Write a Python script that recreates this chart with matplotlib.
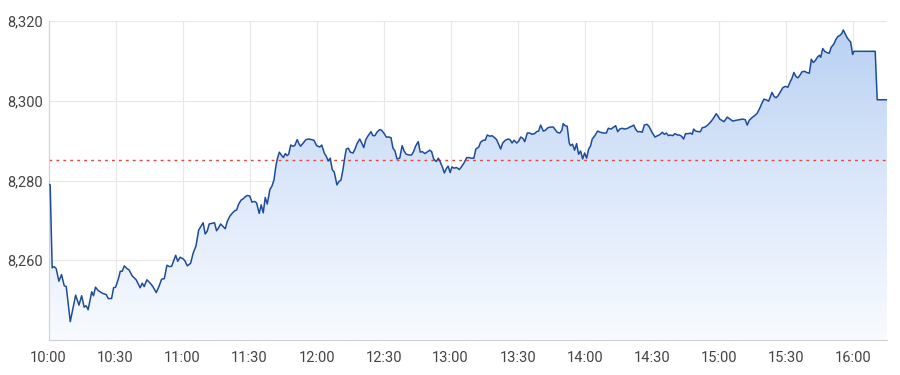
import matplotlib
matplotlib.use("Agg")
import matplotlib.pyplot as plt
import numpy as np
from matplotlib.colors import LinearSegmentedColormap

# minutes after 10:00
minutes = [0, 0.7, 1.6, 2.5, 3.4, 4.6, 5.8, 7.0, 7.9, 9.7, 10.9, 12.1, 13.6, 14.8, 15.9, 16.8, 17.7,
           19.3, 20.1, 21.0, 22.2, 24.0, 25.8, 26.7, 28.2, 29.1, 30.0, 31.2, 32.1, 33.0, 33.9, 35.1,
           36.0, 37.4, 39.2, 41.0, 41.9, 42.8, 44.0, 45.5, 46.7, 48.2, 49.4, 50.6, 51.8, 53.0, 54.2,
           55.1, 56.9, 57.8, 58.9, 60.1, 61.0, 62.1, 63.6, 64.7, 66.0, 67.2, 68.3, 69.2, 70.1, 71.0,
           71.9, 73.1, 74.3, 75.2, 76.1, 77.0, 78.2, 79.1, 80.0, 81.2, 82.4, 83.3, 84.2, 85.1, 86.2,
           87.1, 88.0, 88.9, 90.1, 91.0, 92.2, 93.1, 94.3, 95.2, 96.1, 97.0, 97.9, 98.5, 99.1, 100.0,
           100.9, 101.8, 102.4, 103.3, 104.2, 105.1, 106.0, 106.8, 107.5, 108.4, 109.3, 110.2, 111.3,
           112.2, 112.8, 114.0, 115.2, 116.4, 117.9, 118.8, 120.0, 121.4, 122.3, 123.4, 124.3, 125.2,
           126.1, 127.0, 127.9, 129.1, 130.0, 130.9, 131.8, 132.7, 133.3, 134.2, 135.1, 136.3, 137.2,
           138.1, 139.3, 140.2, 141.1, 142.0, 143.1, 144.3, 145.2, 146.1, 147.0, 148.2, 149.1, 150.3,
           151.2, 152.4, 153.3, 154.2, 155.1, 156.0, 157.2, 158.3, 159.2, 160.1, 161.3, 162.5, 163.4,
           164.3, 165.5, 166.4, 167.3, 168.5, 169.4, 170.6, 171.5, 172.4, 173.6, 174.5, 175.4, 176.3,
           177.2, 178.0, 178.9, 179.8, 180.6, 181.5, 182.7, 183.9, 184.8, 186.0, 187.2, 188.3, 189.2,
           190.4, 191.3, 192.6, 193.4, 194.6, 195.5, 196.4, 197.6, 198.5, 199.7, 200.6, 201.5, 202.4,
           203.3, 204.5, 205.7, 206.6, 207.5, 208.4, 209.6, 210.5, 211.4, 212.3, 213.2, 214.3, 215.5,
           216.4, 217.6, 218.5, 219.4, 220.3, 221.5, 222.4, 223.6, 224.8, 226.0, 226.8, 227.7, 228.9,
           229.8, 230.4, 231.3, 232.2, 233.1, 233.7, 234.6, 235.5, 236.4, 237.3, 238.2, 239.1, 240.0,
           240.9, 241.8, 242.6, 243.4, 244.6, 245.8, 247.0, 248.5, 249.7, 250.6, 251.8, 253.0, 253.9,
           254.8, 255.7, 256.8, 258.0, 259.3, 260.2, 261.1, 262.0, 262.8, 263.7, 264.9, 265.8, 266.7,
           267.9, 268.8, 270.0, 271.5, 272.7, 273.9, 274.8, 275.7, 276.6, 277.5, 278.3, 279.5, 280.4,
           281.7, 282.5, 283.4, 284.3, 285.2, 286.4, 287.3, 288.2, 288.8, 289.7, 290.9, 291.8, 292.7,
           293.9, 295.1, 296.3, 297.2, 298.0, 298.9, 299.6, 300.5, 302.4, 303.9, 305.1, 306.3, 307.8,
           309.2, 310.8, 311.9, 312.8, 313.7, 314.9, 316.1, 317.3, 318.5, 319.4, 320.3, 321.2, 322.4,
           323.3, 323.9, 324.8, 325.7, 326.6, 327.5, 328.7, 329.8, 331.0, 331.9, 332.8, 333.7, 334.6,
           335.5, 336.4, 337.3, 338.5, 339.4, 340.6, 341.5, 342.4, 343.3, 344.2, 345.1, 345.7, 346.6,
           347.5, 348.4, 349.5, 350.4, 351.6, 352.5, 353.4, 354.3, 355.2, 355.8, 356.7, 357.6, 358.5,
           359.1, 360.0, 360.6, 370.1, 371.0, 375.4]

values = [8279.1, 8278.9, 8258.1, 8258.4, 8257.9, 8254.75, 8256.4, 8253.6, 8253.4, 8244.6, 8247.9,
          8251.25, 8248.75, 8251.1, 8248.25, 8248.6, 8247.6, 8252.1, 8251.1, 8253.25, 8252.4, 8251.75,
          8251.4, 8250.4, 8250.4, 8253.1, 8253.25, 8255.25, 8257.25, 8257.25, 8258.6, 8257.9, 8257.6,
          8256.1, 8255.1, 8253.1, 8254.25, 8253.4, 8255.1, 8254.25, 8253.4, 8251.9, 8253.4, 8255.25,
          8255.4, 8258.75, 8258.4, 8258.5, 8261.25, 8259.75, 8260.75, 8260.4, 8259.9, 8258.6, 8259.25,
          8261.75, 8263.6, 8267.6, 8268.6, 8269.4, 8266.6, 8267.25, 8269.1, 8269.25, 8269.4, 8267.4,
          8268.1, 8269.1, 8268.4, 8267.9, 8269.75, 8271.1, 8271.9, 8272.4, 8272.6, 8274.1, 8275.1,
          8275.4, 8275.9, 8276.25, 8276.1, 8274.6, 8274.75, 8274.4, 8271.75, 8273.9, 8271.9, 8275.75,
          8274.1, 8275.9, 8277.75, 8278.6, 8280.1, 8283.75, 8285.4, 8287.1, 8286.4, 8285.75, 8286.75,
          8286.25, 8286.6, 8288.9, 8288.6, 8288.75, 8290.25, 8289.1, 8288.6, 8289.4, 8290.25, 8290.4,
          8290.25, 8290.1, 8288.75, 8288.4, 8288.9, 8286.9, 8286.1, 8284.9, 8285.6, 8282.75, 8282.1,
          8278.9, 8279.75, 8280.1, 8282.75, 8286.1, 8287.9, 8288.1, 8287.1, 8286.9, 8287.9, 8289.25,
          8290.4, 8289.4, 8288.25, 8290.25, 8291.25, 8292.25, 8291.25, 8291.25, 8292.1, 8292.75, 8292.6,
          8291.75, 8290.9, 8290.9, 8290.75, 8288.1, 8287.4, 8285.4, 8285.6, 8288.75, 8287.4, 8286.6,
          8286.4, 8286.4, 8287.25, 8288.6, 8289.75, 8287.1, 8287.25, 8286.75, 8287.1, 8287.6, 8287.25,
          8285.4, 8284.75, 8285.6, 8284.6, 8283.4, 8281.9, 8282.9, 8283.6, 8282.0, 8283.4, 8283.1,
          8283.25, 8282.75, 8283.4, 8284.4, 8285.75, 8285.75, 8285.6, 8285.6, 8287.9, 8288.4, 8289.6,
          8290.1, 8290.1, 8291.4, 8291.1, 8291.25, 8290.75, 8290.25, 8289.1, 8287.9, 8289.4, 8290.1,
          8290.4, 8290.25, 8289.4, 8290.1, 8289.4, 8289.9, 8290.9, 8290.6, 8289.75, 8291.9, 8291.9,
          8291.6, 8291.75, 8292.25, 8292.4, 8293.9, 8292.4, 8292.6, 8293.25, 8293.4, 8293.4, 8292.75,
          8292.1, 8291.9, 8292.6, 8294.25, 8293.75, 8293.6, 8289.4, 8288.75, 8289.1, 8287.6, 8289.25,
          8286.6, 8287.4, 8285.4, 8286.9, 8285.6, 8287.9, 8288.6, 8290.4, 8291.25, 8292.4, 8292.1,
          8291.9, 8291.9, 8293.1, 8292.9, 8293.4, 8293.75, 8292.25, 8292.9, 8293.1, 8292.9, 8293.1,
          8293.4, 8293.6, 8293.9, 8292.9, 8292.25, 8292.25, 8292.1, 8293.9, 8294.1, 8293.6, 8292.25,
          8290.9, 8291.25, 8291.6, 8292.1, 8291.6, 8291.9, 8291.25, 8291.4, 8291.25, 8291.75, 8291.4,
          8291.4, 8291.1, 8290.4, 8291.75, 8291.75, 8291.9, 8291.6, 8292.9, 8292.4, 8292.25, 8292.25,
          8293.25, 8293.4, 8293.9, 8294.6, 8295.25, 8295.9, 8296.75, 8296.25, 8295.4, 8294.75, 8295.9,
          8295.4, 8294.9, 8295.1, 8295.25, 8295.4, 8295.25, 8293.9, 8295.1, 8295.75, 8296.25, 8296.9,
          8298.25, 8299.4, 8300.4, 8300.25, 8299.9, 8301.25, 8302.1, 8301.1, 8300.75, 8301.25, 8302.1,
          8303.25, 8303.6, 8303.4, 8304.6, 8305.6, 8307.1, 8306.1, 8305.75, 8306.4, 8307.25, 8307.4,
          8307.1, 8306.9, 8310.4, 8309.6, 8310.1, 8310.9, 8311.4, 8310.9, 8313.1, 8312.4, 8312.1,
          8311.9, 8313.4, 8314.25, 8315.4, 8316.1, 8316.4, 8316.9, 8317.75, 8316.75, 8315.75, 8315.1,
          8314.75, 8311.6, 8312.4, 8312.4, 8300.25, 8300.25]

prev_close = 8285.2
tick_minutes = [0, 30, 60, 90, 120, 150, 180, 210, 240, 270, 300, 330, 360]
tick_labels = ["10:00", "10:30", "11:00", "11:30", "12:00", "12:30", "13:00",
               "13:30", "14:00", "14:30", "15:00", "15:30", "16:00"]
y_ticks = [8260, 8280, 8300, 8320]
y_labels = ["8,260", "8,280", "8,300", "8,320"]

plt.rcParams['font.family'] = ['Roboto', 'DejaVu Sans']

fig = plt.figure(figsize=(9, 3.75), dpi=100)
ax = fig.add_axes([0.054, 0.0933, 0.9316, 0.8507])
x0, x1 = 0, 375.4
y0, y1 = 8240, 8320
ax.set_xlim(x0, x1)
ax.set_ylim(y0, y1)

# gradient fill
cmap = LinearSegmentedColormap.from_list("g", ["#f8fbff", "#dbe7fa", "#b7d0f2"])
grad = np.linspace(0, 1, 256).reshape(-1, 1)
im = ax.imshow(grad, aspect='auto', cmap=cmap, origin='lower',
               extent=[x0, x1, y0, y1], zorder=1)
poly = ax.fill_between(minutes, values, y0, color='none', lw=0)
path = poly.get_paths()[0]
im.set_clip_path(path, transform=ax.transData)

ax.plot(minutes, values, color='#1d4c9c', lw=1.1, zorder=3)
ax.axhline(prev_close, color='#e8443a', lw=1.0, ls=(0, (2, 3)), zorder=2)

ax.set_xticks(tick_minutes)
ax.set_xticklabels(tick_labels)
ax.set_yticks(y_ticks)
ax.set_yticklabels(y_labels)
ax.grid(True, color='#e8e8e8', lw=0.8, zorder=0)
ax.set_axisbelow(True)
for s in ['top', 'right']:
    ax.spines[s].set_visible(False)
for s in ['left', 'bottom']:
    ax.spines[s].set_color('#d0d0d0')
    ax.spines[s].set_linewidth(0.8)
ax.tick_params(axis='both', length=0, colors='#444444', labelsize=10.5)
ax.tick_params(axis='x', pad=8)
ax.tick_params(axis='y', pad=4)
for lbl in ax.get_yticklabels():
    lbl.set_verticalalignment('center_baseline')

fig.savefig("out.png", dpi=100)
